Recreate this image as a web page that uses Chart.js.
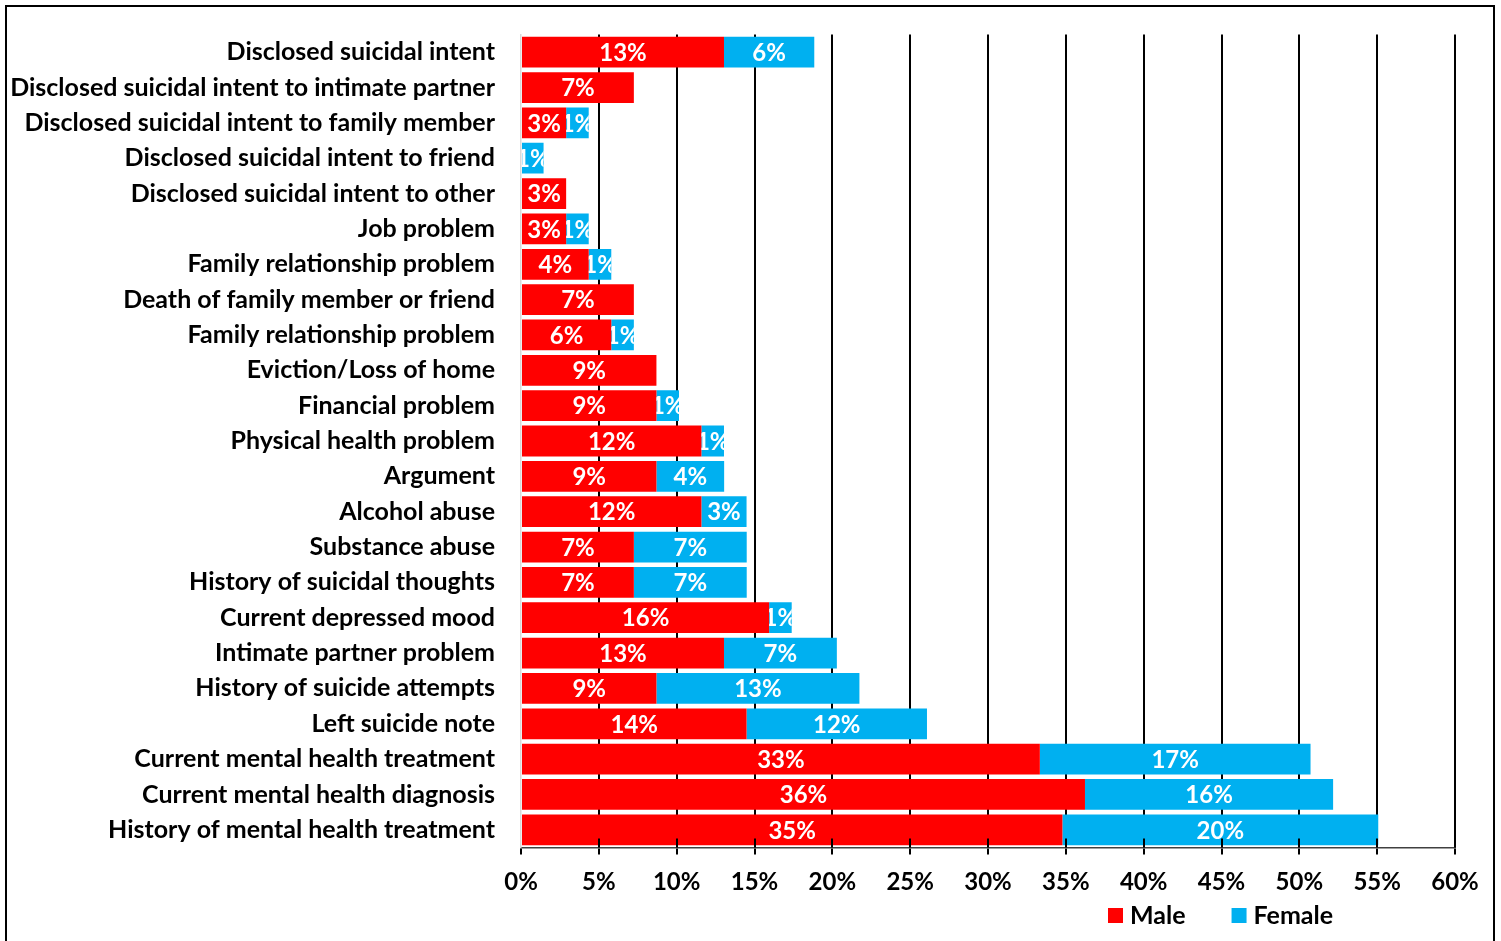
<!DOCTYPE html>
<html>
<head>
<meta charset="utf-8">
<script src="https://cdn.jsdelivr.net/npm/chart.js@4.4.1/dist/chart.umd.min.js"></script>
<style>
  body { margin: 0; background: #fff; overflow: hidden; }
  #frame { position: absolute; left: 5px; top: 5px; width: 1486px; height: 950px; border: 2px solid #000; }
  canvas { display: block; }
</style>
</head>
<body>
<div id="frame"><canvas id="factorChart" width="1486" height="950"></canvas></div>
<script>
// Circumstances by sex (percent of cases)
const categories = [
    'Disclosed suicidal intent',
    'Disclosed suicidal intent to intimate partner',
    'Disclosed suicidal intent to family member',
    'Disclosed suicidal intent to friend',
    'Disclosed suicidal intent to other',
    'Job problem',
    'Family relationship problem',
    'Death of family member or friend',
    'Family relationship problem',
    'Eviction/Loss of home',
    'Financial problem',
    'Physical health problem',
    'Argument',
    'Alcohol abuse',
    'Substance abuse',
    'History of suicidal thoughts',
    'Current depressed mood',
    'Intimate partner problem',
    'History of suicide attempts',
    'Left suicide note',
    'Current mental health treatment',
    'Current mental health diagnosis',
    'History of mental health treatment'
];

const maleValues = [13.04, 7.25, 2.90, 0, 2.90, 2.90, 4.35, 7.25, 5.80, 8.70, 8.70, 11.59,
    8.70, 11.59, 7.25, 7.25, 15.94, 13.04, 8.70, 14.49, 33.33, 36.23, 34.78];

const femaleValues = [5.80, 0, 1.45, 1.45, 0, 1.45, 1.45, 0, 1.45, 0, 1.45, 1.45,
    4.35, 2.90, 7.25, 7.25, 1.45, 7.25, 13.04, 11.59, 17.39, 15.94, 20.29];

const xTicks = [0, 5, 10, 15, 20, 25, 30, 35, 40, 45, 50, 55, 60];

const FONT = 'Lato, "Open Sans", sans-serif';

// white % labels centred in each segment, clipped to the bar
const barLabels = {
    id: 'barLabels',
    afterDatasetsDraw(chart) {
        const ctx = chart.ctx;
        chart.data.datasets.forEach((ds, i) => {
            const meta = chart.getDatasetMeta(i);
            meta.data.forEach((bar, j) => {
                const v = ds.data[j];
                if (!v) return;
                const p = bar.getProps(['x', 'y', 'base', 'height'], true);
                const left = Math.min(p.x, p.base);
                const w = Math.abs(p.x - p.base);
                ctx.save();
                ctx.beginPath();
                ctx.rect(left, p.y - p.height / 2, w, p.height);
                ctx.clip();
                ctx.fillStyle = '#fff';
                ctx.font = 'bold 24px ' + FONT;
                ctx.textAlign = 'center';
                ctx.textBaseline = 'middle';
                ctx.fillText(Math.round(v) + '%', left + w / 2, p.y + 1);
                ctx.restore();
            });
        });

        // tick marks crossing the axis line, drawn over the bars
        const xs = chart.scales.x;
        const bottom = chart.chartArea.bottom;
        ctx.save();
        ctx.strokeStyle = '#000';
        ctx.lineWidth = 2;
        xs.ticks.forEach((t, k) => {
            if (k === 0) return;
            const px = Math.round(xs.getPixelForValue(t.value));
            ctx.beginPath();
            ctx.moveTo(px, bottom - 9);
            ctx.lineTo(px, bottom);
            ctx.stroke();
        });
        ctx.restore();
    }
};

// legend under the axis, right of centre
const bottomLegend = {
    id: 'bottomLegend',
    afterDraw(chart) {
        const ctx = chart.ctx;
        let x = 1101;
        const y = 909;
        ctx.save();
        ctx.font = 'bold 25px ' + FONT;
        ctx.textBaseline = 'middle';
        ctx.textAlign = 'left';
        chart.data.datasets.forEach(ds => {
            ctx.fillStyle = ds.backgroundColor;
            ctx.fillRect(x, y - 8, 15, 15);
            ctx.fillStyle = '#000';
            ctx.fillText(ds.label, x + 22, y);
            x += 22 + ctx.measureText(ds.label).width + 46;
        });
        ctx.restore();
    }
};

const ctx = document.getElementById('factorChart').getContext('2d');
new Chart(ctx, {
    type: 'bar',
    data: {
        labels: categories,
        datasets: [
            { label: 'Male', data: maleValues, backgroundColor: '#FF0000' },
            { label: 'Female', data: femaleValues, backgroundColor: '#00B0F0' }
        ]
    },
    options: {
        indexAxis: 'y',
        responsive: false,
        animation: false,
        devicePixelRatio: 1,
        layout: { padding: { left: 0, top: 27.5, right: 38, bottom: 49.5 } },
        datasets: { bar: { categoryPercentage: 1, barPercentage: 0.87 } },
        plugins: { legend: { display: false }, tooltip: { enabled: false } },
        scales: {
            x: {
                stacked: true,
                min: 0,
                max: 60,
                afterBuildTicks: scale => { scale.ticks = xTicks.map(v => ({ value: v })); },
                afterFit: scale => { scale.height = 60; },
                ticks: {
                    callback: v => v + '%',
                    color: '#000',
                    font: { family: FONT, size: 24, weight: 'bold' },
                    padding: 13,
                    maxRotation: 0
                },
                grid: {
                    color: c => (c.index === 0 ? 'rgba(0,0,0,0)' : '#000'),
                    lineWidth: 2,
                    tickLength: 7,
                    tickColor: '#000',
                    tickWidth: 2
                },
                border: { color: '#404040', width: 1.5 }
            },
            y: {
                stacked: true,
                afterFit: scale => {
                    scale.width = 514;
                    scale.paddingTop = 0;
                    scale.paddingBottom = 0;
                },
                ticks: {
                    color: '#000',
                    font: { family: FONT, size: 25, weight: 'bold' },
                    padding: 26,
                    autoSkip: false
                },
                grid: { display: false, drawTicks: false },
                border: { color: '#d9d9d9', width: 1.5 }
            }
        }
    },
    plugins: [barLabels, bottomLegend]
});
</script>
</body>
</html>
